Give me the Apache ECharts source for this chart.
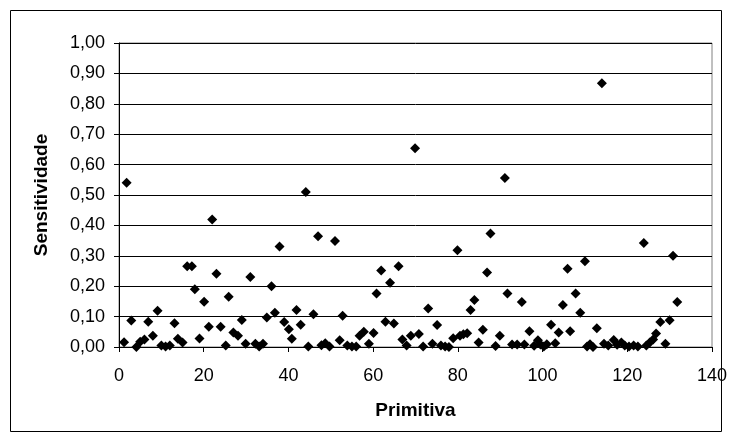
<!DOCTYPE html>
<html>
<head>
<meta charset="utf-8">
<script src="https://cdn.jsdelivr.net/npm/echarts@6/dist/echarts.min.js"></script>
<style>html,body{margin:0;padding:0;background:#fff;}#c{width:732px;height:439px;}</style>
</head>
<body>
<div id="c"></div>
<script>
// Primitiva (x) values
const primitiva = [1.2,1.8,2.9,4.1,5.0,6.0,6.9,8.0,9.1,10.0,11.0,12.0,13.1,13.9,15.0,16.1,17.2,17.9,19.0,20.1,
21.2,22.0,23.0,24.0,25.2,25.9,27.0,28.1,29.0,29.9,31.0,32.2,33.1,34.0,34.9,36.0,36.8,37.9,39.0,40.1,
40.8,41.9,42.9,44.1,44.7,45.9,47.0,47.8,48.7,49.7,51.0,52.1,52.8,53.9,55.0,56.0,56.8,57.8,59.0,60.1,
60.8,61.9,62.9,64.0,64.9,66.0,66.9,67.9,68.9,69.9,70.8,71.8,73.0,74.0,75.1,76.0,77.0,77.9,78.9,79.9,
80.5,81.3,82.2,83.0,83.9,84.9,85.9,86.9,87.7,88.9,89.9,91.1,91.7,92.8,94.0,95.1,95.7,96.9,98.0,98.9,
99.5,100.3,101.0,102.0,103.0,103.8,104.8,105.9,106.5,107.8,108.9,110.0,110.5,111.2,111.9,112.8,114.0,114.5,115.5,116.8,
117.6,118.6,119.4,120.4,121.5,122.5,123.9,124.5,125.3,126.1,126.8,127.8,129.0,130.0,130.8,131.8];
// Sensitividade (y) values
const sensitividade = [0.016,0.54,0.087,0.0,0.017,0.025,0.083,0.037,0.119,0.005,0.002,0.005,0.078,0.027,0.015,0.266,0.266,0.19,0.028,0.149,
0.067,0.419,0.241,0.067,0.005,0.165,0.048,0.037,0.089,0.011,0.23,0.011,0.002,0.011,0.097,0.20,0.113,0.331,0.082,0.058,
0.027,0.122,0.073,0.51,0.002,0.108,0.364,0.006,0.012,0.002,0.349,0.022,0.103,0.005,0.002,0.002,0.037,0.05,0.011,0.046,
0.176,0.252,0.083,0.211,0.077,0.266,0.025,0.005,0.037,0.654,0.043,0.002,0.127,0.011,0.072,0.005,0.002,0.0,0.029,0.318,
0.037,0.042,0.045,0.122,0.155,0.015,0.057,0.245,0.373,0.003,0.037,0.556,0.176,0.008,0.008,0.148,0.008,0.052,0.004,0.022,
0.008,0.002,0.009,0.073,0.012,0.048,0.138,0.257,0.052,0.176,0.113,0.282,0.002,0.009,0.0,0.062,0.868,0.011,0.005,0.023,
0.007,0.015,0.005,0.002,0.005,0.002,0.342,0.005,0.015,0.025,0.044,0.082,0.011,0.088,0.30,0.148];
const xTitle = 'Primitiva';
const yTitle = 'Sensitividade';

const points = primitiva.map((x, i) => [x, sensitividade[i]]);
const chart = echarts.init(document.getElementById('c'), null, {renderer: 'canvas'});
const font = 'Liberation Sans, Arial, sans-serif';
chart.setOption({
  animation: false,
  backgroundColor: '#fff',
  grid: {left: 119, right: 20, top: 43, bottom: 92, show: true, borderColor: '#808080', borderWidth: 1, backgroundColor: 'transparent'},
  xAxis: {
    type: 'value', min: 0, max: 140, interval: 20,
    name: xTitle, nameLocation: 'middle', nameGap: 54,
    nameTextStyle: {fontFamily: font, fontSize: 19, fontWeight: 'bold', color: '#000'},
    axisLine: {show: true, onZero: false, lineStyle: {color: '#000', width: 1}},
    axisTick: {show: true, inside: false, length: 5, lineStyle: {color: '#000'}},
    axisLabel: {fontFamily: font, fontSize: 18, color: '#000', margin: 20},
    splitLine: {show: false}
  },
  yAxis: {
    type: 'value', min: 0, max: 1, interval: 0.1,
    name: yTitle, nameLocation: 'middle', nameGap: 68, nameRotate: 90,
    nameTextStyle: {fontFamily: font, fontSize: 19, fontWeight: 'bold', color: '#000'},
    axisLine: {show: true, lineStyle: {color: '#000', width: 1}},
    axisTick: {show: true, inside: false, length: 5, lineStyle: {color: '#000'}},
    axisLabel: {fontFamily: font, fontSize: 18, color: '#000', margin: 14,
      formatter: v => v.toFixed(2).replace('.', ',')},
    splitLine: {show: true, lineStyle: {color: '#000', width: 1}}
  },
  series: [{
    type: 'scatter', data: points, symbol: 'diamond', symbolSize: 10,
    itemStyle: {color: '#000', opacity: 1}
  }],
  graphic: [{
    type: 'rect', shape: {x: 10.5, y: 10.5, width: 711, height: 421}, silent: true,
    style: {fill: 'none', stroke: '#000', lineWidth: 1}, z: 100
  }]
});
</script>
</body>
</html>
